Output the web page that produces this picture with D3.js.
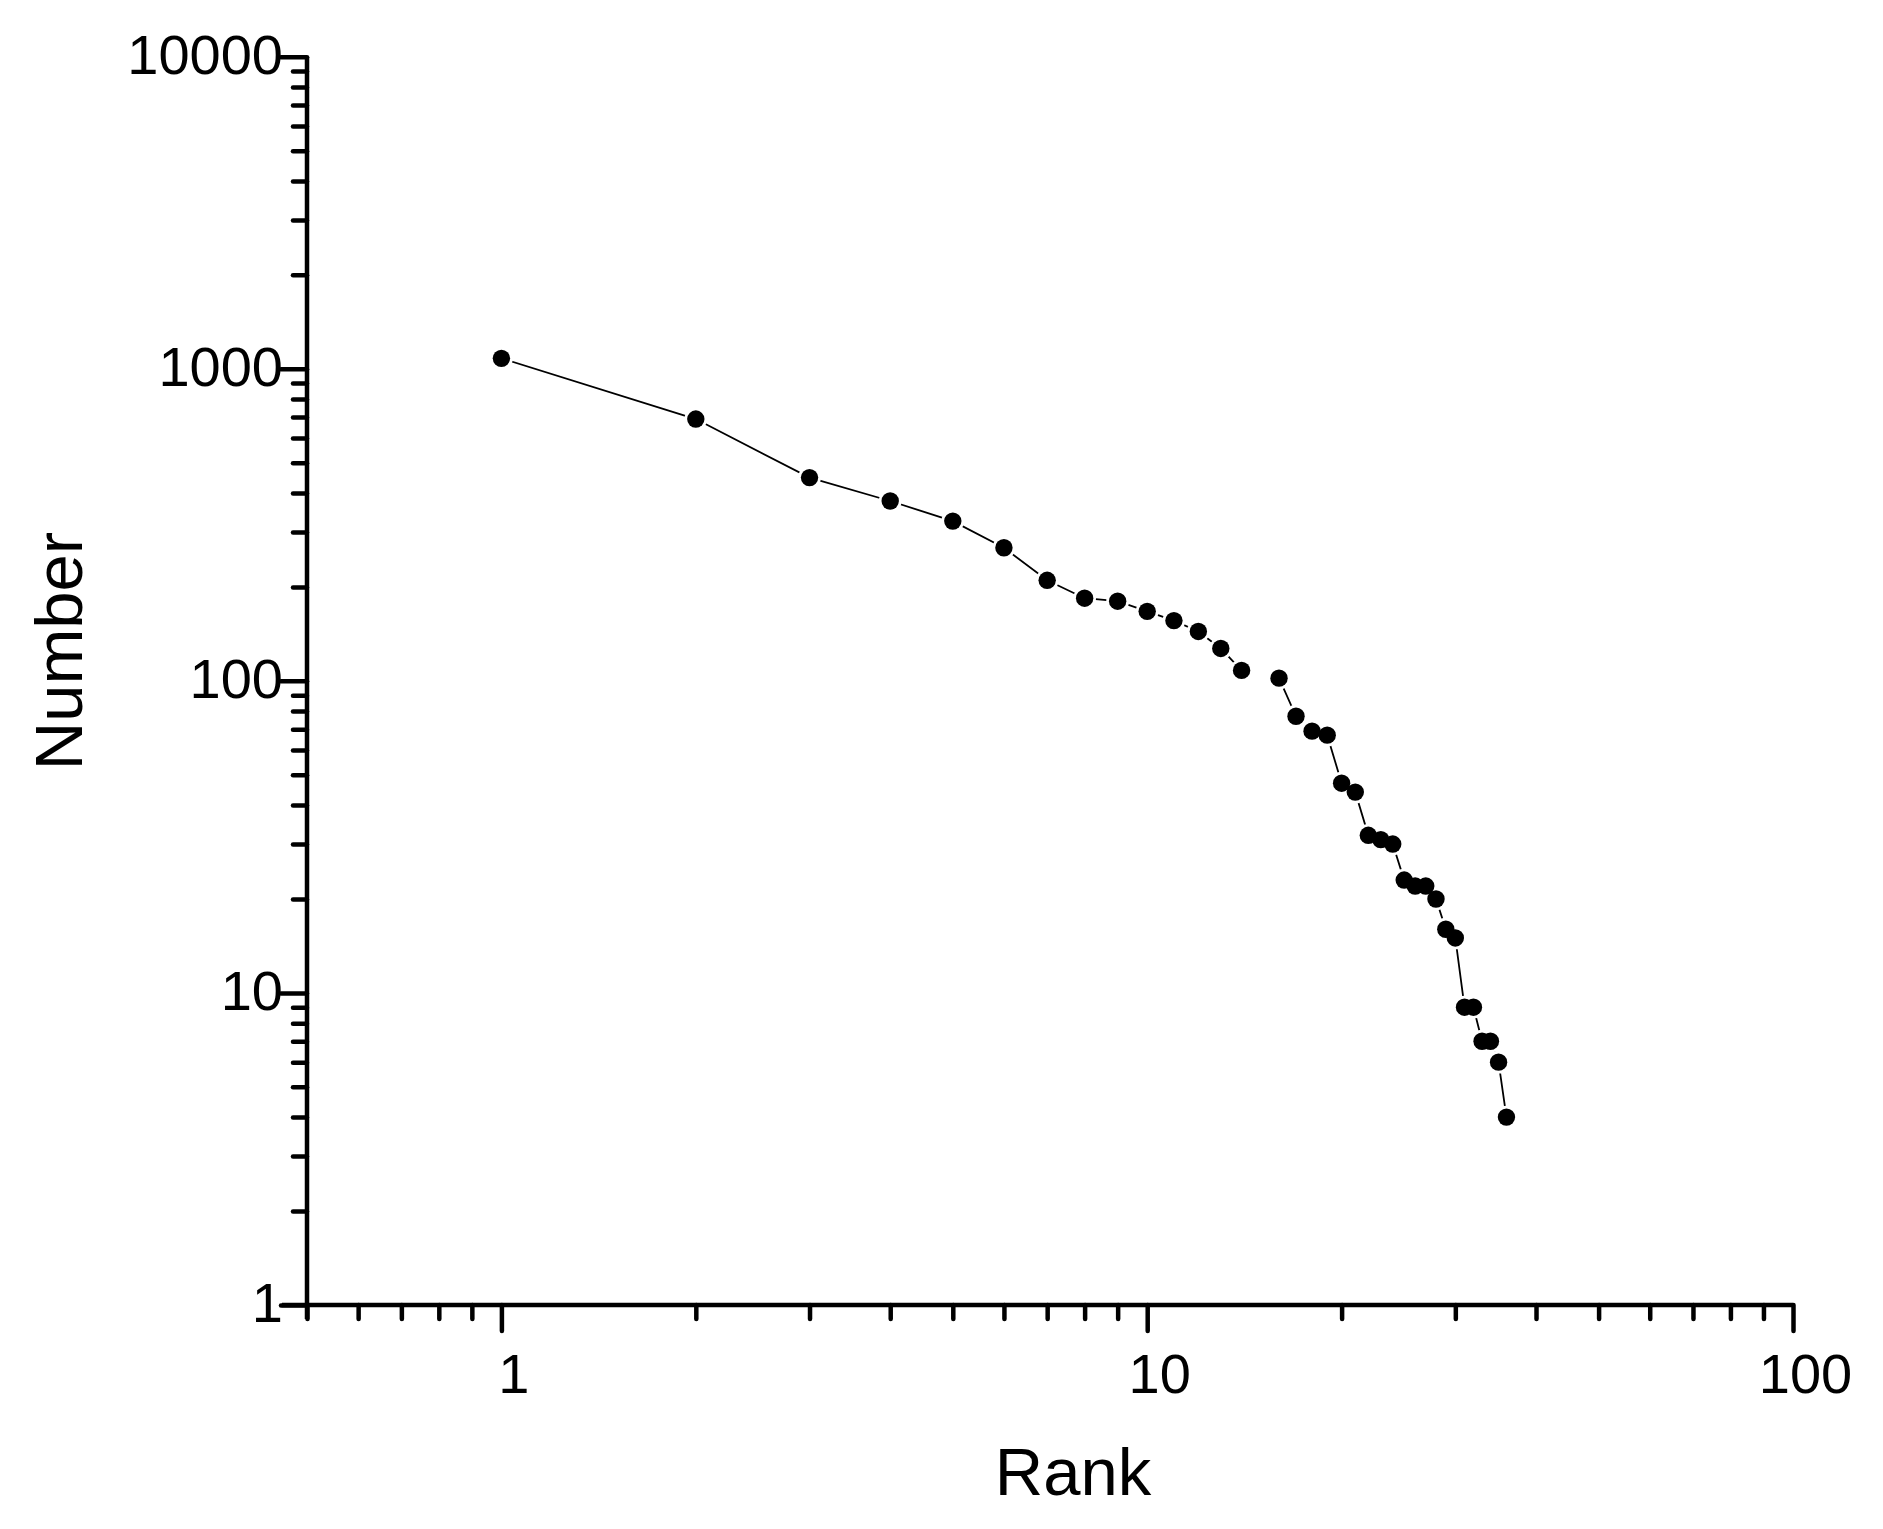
<!DOCTYPE html>
<html>
<head>
<meta charset="utf-8">
<script src="https://cdn.jsdelivr.net/npm/d3@7"></script>
<style>
  html, body { margin: 0; padding: 0; background: #fff; }
  svg { display: block; }
  text { font-family: "Liberation Sans", Arial, sans-serif; fill: #000; }
</style>
</head>
<body>
<svg id="chart" width="1883" height="1529"></svg>
<script>
// ---- data ----
const ranks  = [1,2,3,4,5,6,7,8,9,10,11,12,13,14,15,16,17,18,19,20,21,22,23,24,25,26,27,28,29,30,31,32,33,34,35,36];
const counts = [1080,690,448,377,325,267,210,184,180,167,156,144,127,108,null,102,77,69,67,47,44,32,31,30,23,22,22,20,16,15,9,9,7,7,6,4];

const xMajorTicks = [1, 10, 100];
const xMinorTicks = [0.5,0.6,0.7,0.8,0.9, 2,3,4,5,6,7,8,9, 20,30,40,50,60,70,80,90];
const yMajorTicks = [1, 10, 100, 1000, 10000];
const yMinorTicks = [2,3,4,5,6,7,8,9, 20,30,40,50,60,70,80,90, 200,300,400,500,600,700,800,900, 2000,3000,4000,5000,6000,7000,8000,9000];

const xTitle = "Rank";
const yTitle = "Number";

(function () {
// ---- layout ----
const svg = d3.select("#chart");
const pLeft = 307, pRight = 1793, pTop = 56.7, pBottom = 1305;

const x = d3.scaleLog().domain([0.5, 100]).range([pLeft, pRight]);
const y = d3.scaleLog().domain([1, 10000]).range([pBottom, pTop]);

const AXW = 4.5;
const majorLen = 26, minorLen = 14;

// X axis
const xAxis = d3.axisBottom(x)
  .tickValues(xMinorTicks.concat(xMajorTicks))
  .tickSizeOuter(0)
  .tickSizeInner(majorLen)
  .tickPadding(14)
  .tickFormat(d => xMajorTicks.includes(d) ? String(d) : "");

const gx = svg.append("g").attr("transform", `translate(0,${pBottom})`).call(xAxis);
gx.attr("font-family", null).attr("font-size", null);
gx.select(".domain").attr("stroke", "#000").attr("stroke-width", AXW)
  .attr("d", `M${pLeft - 25},0H${pRight}`);
gx.selectAll(".tick line")
  .attr("stroke", "#000").attr("stroke-width", AXW).attr("stroke-linecap", "round")
  .attr("y2", d => xMajorTicks.includes(d) ? majorLen : minorLen);
gx.selectAll(".tick text")
  .attr("font-size", 56)
  .attr("fill", "#000").attr("dy", "0.716em").attr("y", 48).attr("dx", 12);

// Y axis
const yAxis = d3.axisLeft(y)
  .tickValues(yMinorTicks.concat(yMajorTicks))
  .tickSizeOuter(0)
  .tickSizeInner(majorLen)
  .tickPadding(0)
  .tickFormat(d => yMajorTicks.includes(d) ? String(d) : "");

const gy = svg.append("g").attr("transform", `translate(${pLeft},0)`).call(yAxis);
gy.attr("font-family", null).attr("font-size", null);
gy.select(".domain").attr("stroke", "#000").attr("stroke-width", AXW)
  .attr("d", `M0,${pTop}V${pBottom + 14}`);
gy.selectAll(".tick line")
  .attr("stroke", "#000").attr("stroke-width", AXW).attr("stroke-linecap", "round")
  .attr("x2", d => yMajorTicks.includes(d) ? -majorLen : -minorLen);
gy.selectAll(".tick text")
  .attr("font-size", 56)
  .attr("fill", "#000").attr("x", -24).attr("dy", "0.30em");

// Titles
svg.append("text")
  .attr("x", 1073).attr("y", 1495)
  .attr("text-anchor", "middle")
  .attr("font-size", 67)
  .text(xTitle);

svg.append("text")
  .attr("transform", `translate(82,651) rotate(-90)`)
  .attr("text-anchor", "middle")
  .attr("font-size", 67)
  .text(yTitle);

// Data
const data = ranks.map((r, i) => ({ r, v: counts[i] }));

const line = d3.line()
  .defined(d => d.v != null)
  .x(d => x(d.r))
  .y(d => y(d.v));

svg.append("path")
  .datum(data)
  .attr("fill", "none")
  .attr("stroke", "#000")
  .attr("stroke-width", 1.8)
  .attr("d", line);

const pts = data.filter(d => d.v != null);

svg.append("g").selectAll("circle")
  .data(pts).join("circle")
  .attr("cx", d => x(d.r)).attr("cy", d => y(d.v))
  .attr("r", 11.4).attr("fill", "#fff");

svg.append("g").selectAll("circle")
  .data(pts).join("circle")
  .attr("cx", d => x(d.r)).attr("cy", d => y(d.v))
  .attr("r", 8.7).attr("fill", "#000");
})();
</script>
</body>
</html>
